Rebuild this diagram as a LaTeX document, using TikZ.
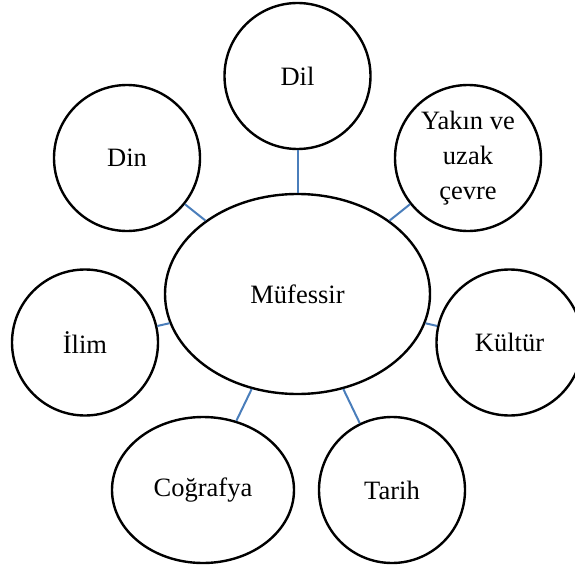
\documentclass[tikz,border=0pt]{standalone}
\usepackage{fontspec}
\setmainfont{Liberation Serif}
\usetikzlibrary{shapes.geometric}
\definecolor{linkblue}{HTML}{4A7EBB}
\tikzset{
    topic/.style={circle, draw=black, line width=2.4pt, minimum size=146pt, inner sep=0pt, align=center},
    oval/.style={ellipse, draw=black, line width=2.4pt, inner sep=0pt, align=center},
    link/.style={draw=linkblue, line width=2pt}
}
\begin{document}
\begin{tikzpicture}[x=1pt, y=-1pt, font=\fontsize{26.5}{35}\selectfont]
        \clip (0, 0) rectangle (575, 567);
        % centre
        \node[oval, minimum width=265pt, minimum height=200pt] (muf) at (297.5, 294) {Müfessir};
        
        % upper ring
        \node[topic] (dil) at (297.5, 76) {Dil};
        \node[topic] (din) at (127, 158) {Din};
        \node[topic] (yakin) at (468, 158) {Yakın ve\\uzak\\çevre};
        
        % middle ring
        \node[topic] (ilim) at (85, 342.5) {İlim};
        \node[topic] (kultur) at (509.5, 342.5) {Kültür};
        
        % lower ring
        \node[oval, minimum width=182pt, minimum height=146pt] (cografya) at (203, 490) {Coğrafya};
        \node[topic] (tarih) at (392, 490) {Tarih};
        
        % links
        \draw[link] (dil) -- (muf);
        \draw[link] (din) -- (muf);
        \draw[link] (yakin) -- (muf);
        \draw[link] (ilim) -- (muf);
        \draw[link] (kultur) -- (muf);
        \draw[link] (cografya) -- (muf);
        \draw[link] (tarih) -- (muf);
      
    \end{tikzpicture}
\end{document}
